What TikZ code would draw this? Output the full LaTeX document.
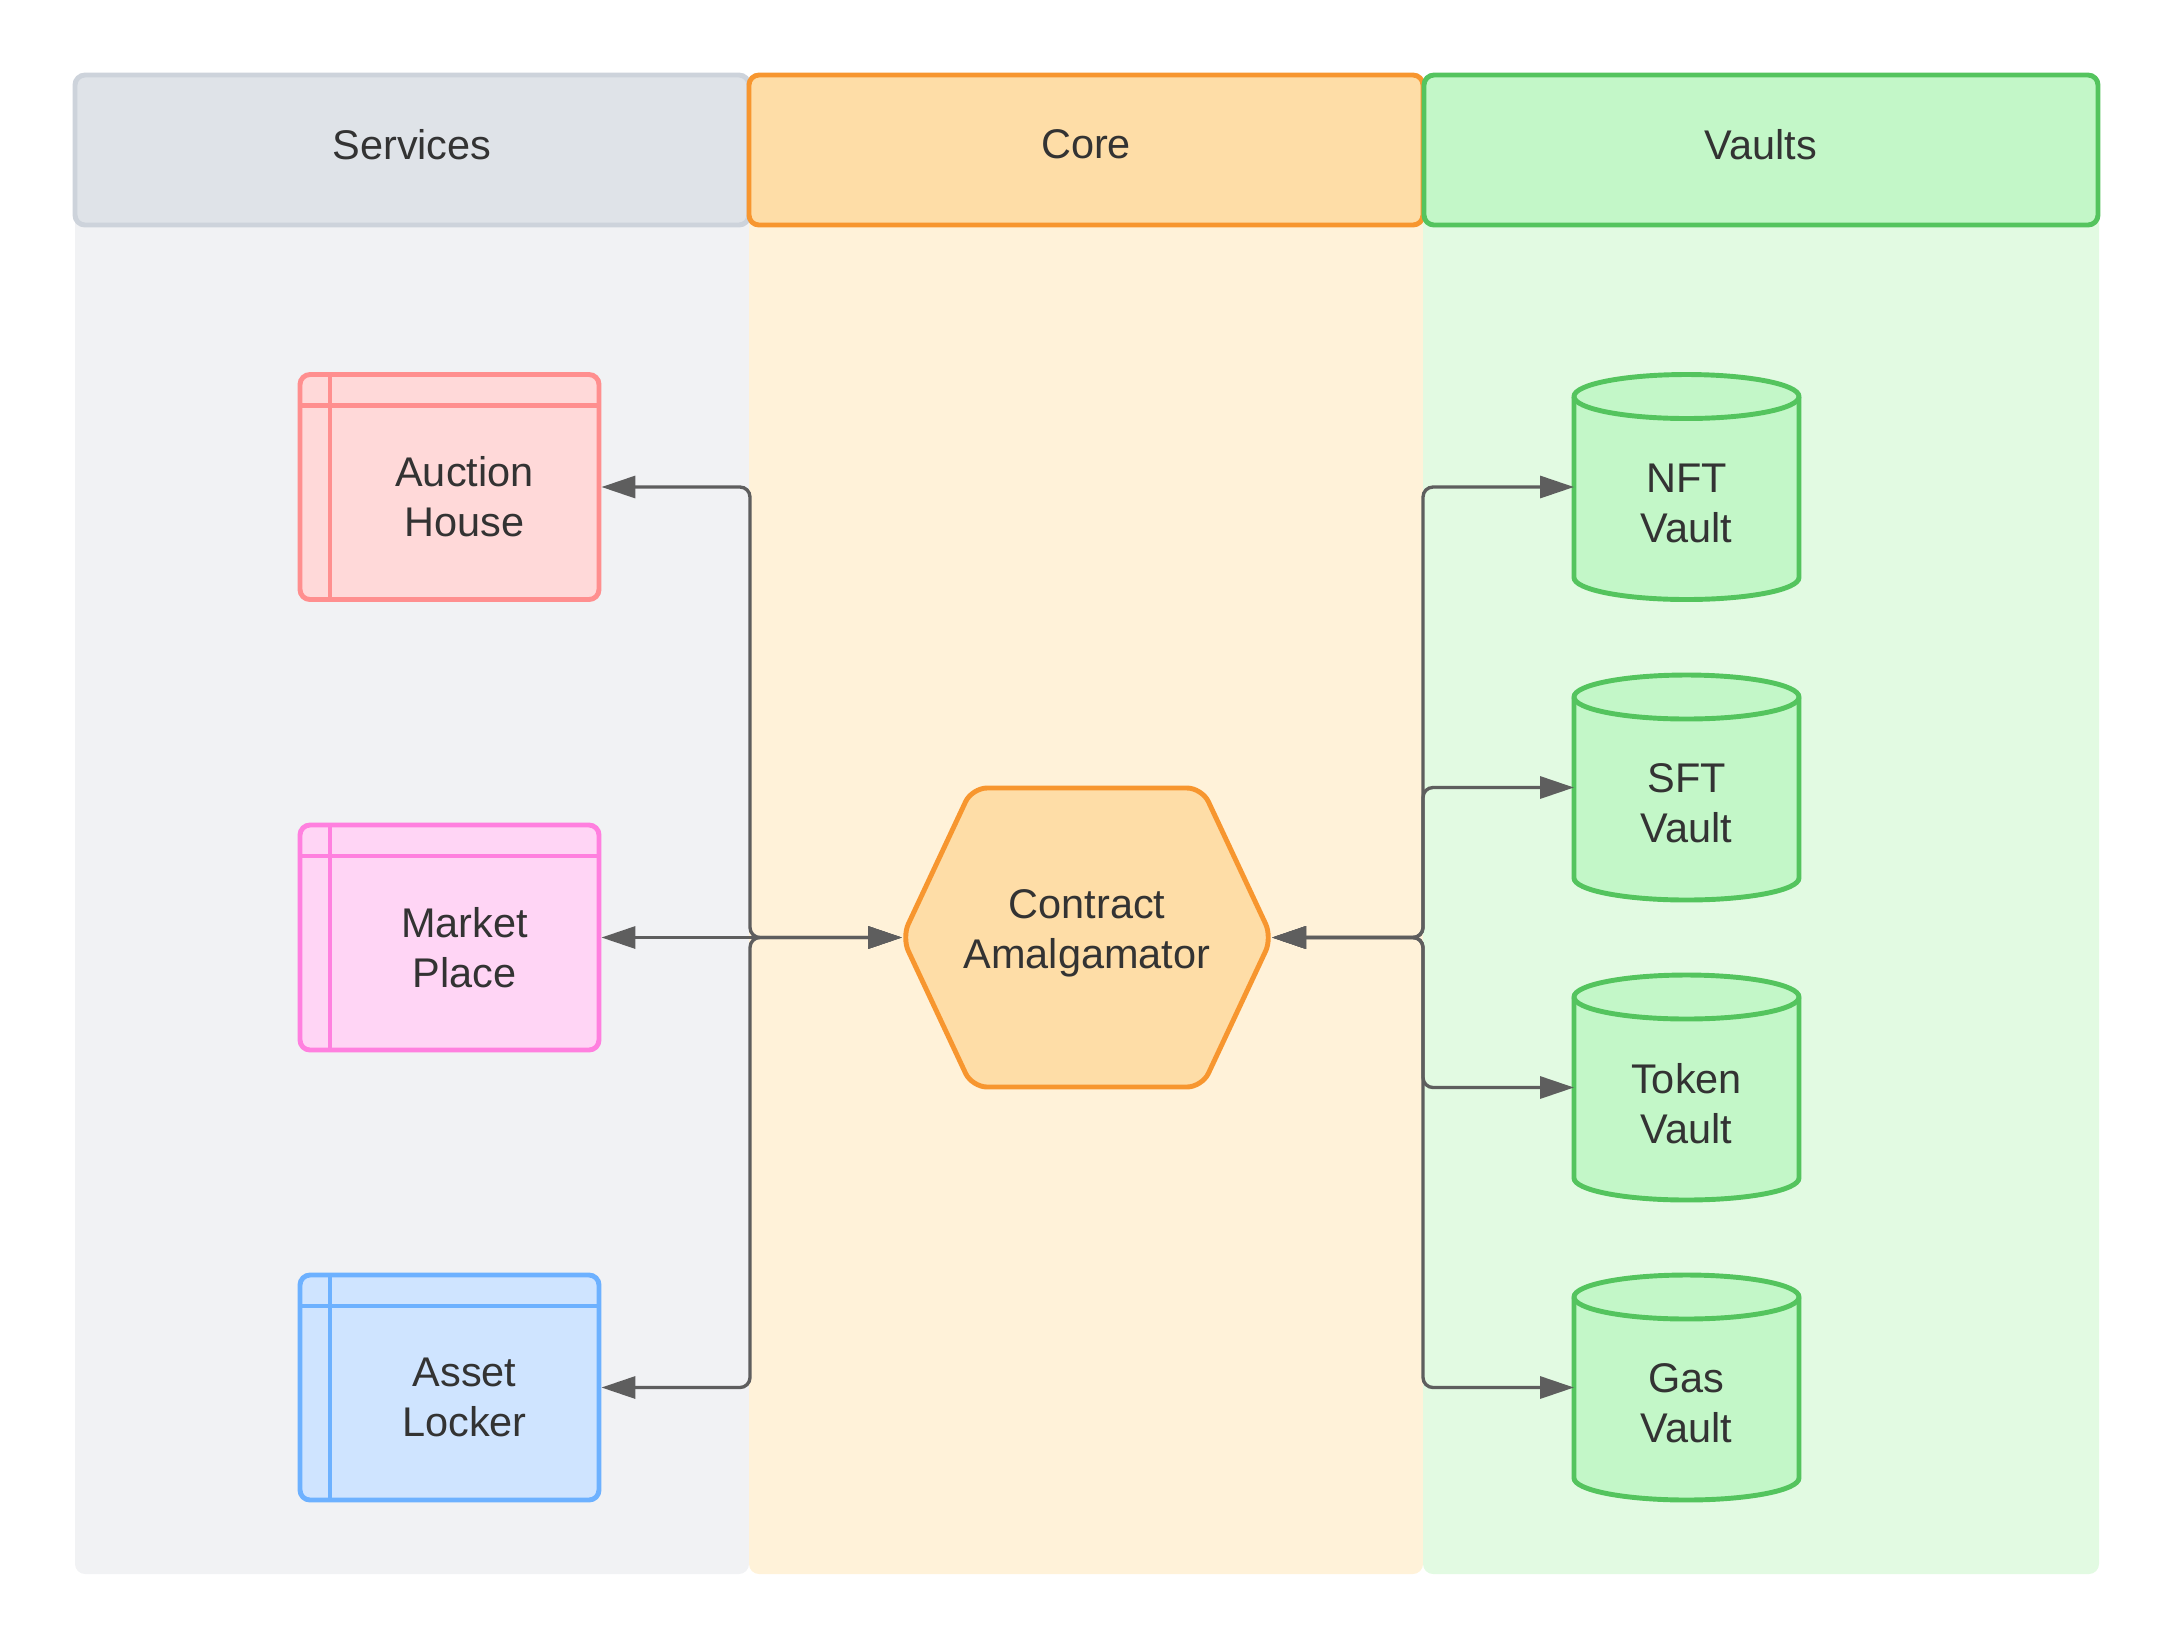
\documentclass[tikz,border=0pt]{standalone}
\usepackage{fontspec}
\setmainfont{Liberation Sans}
\usepackage{tikz}
\usetikzlibrary{arrows.meta,positioning,calc,backgrounds}
\usepackage{xcolor}
\definecolor{SvcBody}{HTML}{F1F2F4}
\definecolor{SvcHead}{HTML}{DFE3E8}
\definecolor{SvcLine}{HTML}{CDD3DB}
\definecolor{CoreBody}{HTML}{FFF2D9}
\definecolor{CoreHead}{HTML}{FEDDA7}
\definecolor{CoreLine}{HTML}{F7962F}
\definecolor{VaultBody}{HTML}{E2FAE2}
\definecolor{VaultHead}{HTML}{C3F7C8}
\definecolor{VaultLine}{HTML}{54C45E}
\definecolor{AuctionFill}{HTML}{FFD9D9}
\definecolor{AuctionLine}{HTML}{FF8F8F}
\definecolor{MarketFill}{HTML}{FFD5F5}
\definecolor{MarketLine}{HTML}{FF80DF}
\definecolor{LockerFill}{HTML}{CFE4FF}
\definecolor{LockerLine}{HTML}{6DB1FF}
\definecolor{ArrowGray}{HTML}{5E5E5E}
\definecolor{TextGray}{HTML}{333333}
\tikzset{
    % Base text
    basetext/.style={
        align=center,
        text=TextGray,
        font=\fontsize{11.8}{14.2}\selectfont
    },
    % Lane body
    lanebody/.style={
        rounded corners=0.1cm
    },
    % Lane header
    laneheader/.style={
        basetext,
        text depth=0.11cm,
        line width=1.4pt,
        rounded corners=0.1cm,
        minimum width=6.74cm,
        minimum height=1.5cm
    },
    % Service box (fill, line)
    svcbox/.style 2 args={
        fill=#1,
        draw=#2,
        line width=1.4pt,
        rounded corners=0.1cm,
        minimum width=2.99cm,
        minimum height=2.25cm,
        path picture={
            \draw[#2, line width=1.4pt] ([xshift=0.3cm]path picture bounding box.north west) -- ([xshift=0.3cm]path picture bounding box.south west);
            \draw[#2, line width=1.4pt] ([yshift=-0.31cm]path picture bounding box.north west) -- ([yshift=-0.31cm]path picture bounding box.north east);
        }
    },
    svclabel/.style={
        basetext,
        xshift=0.15cm,
        yshift=-0.1cm
    },
    % Core hexagon
    corenode/.style={
        outer sep=0pt,
        minimum width=3.7cm,
        minimum height=2.99cm
    },
    corelabel/.style={
        basetext,
        yshift=0.04cm
    },
    hexshape/.style={
        fill=CoreHead,
        draw=CoreLine,
        line width=1.4pt,
        rounded corners=0.15cm
    },
    % Vault cylinder
    vaultnode/.style={
        outer sep=0pt,
        minimum width=2.25cm,
        minimum height=2.25cm
    },
    vaultlabel/.style={
        basetext,
        yshift=-0.16cm
    },
    cylshape/.style={
        fill=VaultHead,
        draw=VaultLine,
        line width=1.4pt
    },
    % Bidirectional arrow
    biarrow/.style={
        {Triangle[length=3.4mm,width=2.2mm]}-{Triangle[length=3.4mm,width=2.2mm]},
        line width=0.95pt,
        draw=ArrowGray,
        rounded corners=0.1cm
    }
}
\begin{document}
\begin{tikzpicture}
        \useasboundingbox (0,0) rectangle (21.75,-16.5);

        % Lane bodies
        \begin{scope}[on background layer]
        \fill[lanebody, SvcBody] (0.75,-0.75) rectangle (7.49,-15.74);
        \fill[lanebody, CoreBody] (7.49,-0.75) rectangle (14.23,-15.74);
        \fill[lanebody, VaultBody] (14.23,-0.75) rectangle (20.99,-15.74);
        \end{scope}

        % Headers
        \node[laneheader, fill=SvcHead, draw=SvcLine] (hsvc) at (4.12,-1.5) {Services};
        \node[laneheader, fill=CoreHead, draw=CoreLine] (hcore) at (10.86,-1.5) {Core};
        \node[laneheader, fill=VaultHead, draw=VaultLine] (hvault) at (17.61,-1.5) {Vaults};

        % Services
        \node[svcbox={AuctionFill}{AuctionLine}, label={[svclabel]center:{Auction\\House}}] (auction) at (4.495,-4.87) {};
        \node[svcbox={MarketFill}{MarketLine}, label={[svclabel]center:{Market\\Place}}] (market) at (4.495,-9.375) {};
        \node[svcbox={LockerFill}{LockerLine}, label={[svclabel]center:{Asset\\Locker}}] (locker) at (4.495,-13.875) {};

        % Core
        \node[corenode, label={[corelabel]center:{Contract\\Amalgamator}}] (amalg) at (10.87,-9.375) {};

        % Vaults
        \node[vaultnode, label={[vaultlabel]center:{NFT\\Vault}}] (nft) at (16.865,-4.87) {};
        \node[vaultnode, label={[vaultlabel]center:{SFT\\Vault}}] (sft) at (16.865,-7.875) {};
        \node[vaultnode, label={[vaultlabel]center:{Token\\Vault}}] (token) at (16.865,-10.875) {};
        \node[vaultnode, label={[vaultlabel]center:{Gas\\Vault}}] (gas) at (16.865,-13.875) {};

        % Shapes behind the texts
        \begin{scope}[on background layer]
        \draw[hexshape] (amalg.west) -- ([xshift=0.7cm]amalg.north west) -- ([xshift=-0.7cm]amalg.north east)
            -- (amalg.east) -- ([xshift=-0.7cm]amalg.south east) -- ([xshift=0.7cm]amalg.south west) -- cycle;
        \foreach \v in {nft,sft,token,gas}{
            \draw[cylshape] ([yshift=-0.22cm]\v.north west) -- ([yshift=0.22cm]\v.south west)
                arc[start angle=180, end angle=360, x radius=1.125cm, y radius=0.22cm]
                -- ([yshift=-0.22cm]\v.north east)
                arc[start angle=0, end angle=180, x radius=1.125cm, y radius=0.22cm] -- cycle;
            \draw[cylshape, fill=none] ([yshift=-0.22cm]\v.north west)
                arc[start angle=180, end angle=360, x radius=1.125cm, y radius=0.22cm];
        }
        \end{scope}

        % Buses
        \coordinate (busl) at (7.50,-9.375);
        \coordinate (busr) at (14.23,-9.375);

        % Services arrows
        \draw[biarrow] (amalg.west) -| (busl |- auction.east) -- (auction.east);
        \draw[biarrow] (amalg.west) -- (market.east);
        \draw[biarrow] (amalg.west) -| (busl |- locker.east) -- (locker.east);

        % Vault arrows
        \draw[biarrow] (amalg.east) -| (busr |- nft.west) -- (nft.west);
        \draw[biarrow] (amalg.east) -| (busr |- sft.west) -- (sft.west);
        \draw[biarrow] (amalg.east) -| (busr |- token.west) -- (token.west);
        \draw[biarrow] (amalg.east) -| (busr |- gas.west) -- (gas.west);
    \end{tikzpicture}
\end{document}
